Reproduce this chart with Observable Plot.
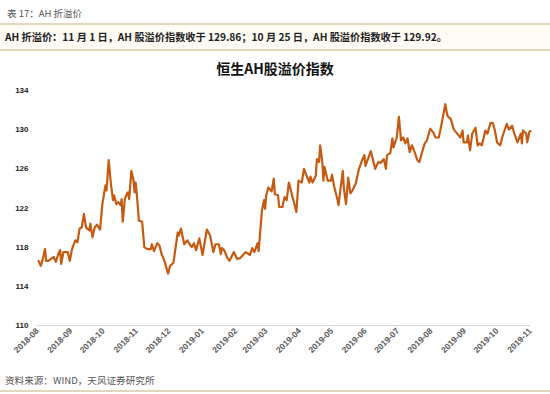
<!DOCTYPE html>
<html>
<head>
<meta charset="utf-8">
<script src="https://cdn.jsdelivr.net/npm/d3@7"></script>
<script src="https://cdn.jsdelivr.net/npm/@observablehq/plot@0.6"></script>
<style>
  body { margin:0; width:550px; height:394px; background:#fff; position:relative; overflow:hidden;
         font-family:"Noto Sans CJK SC","Noto Sans",sans-serif; }
  .abs { position:absolute; }
  #t1 { top:5px; left:7px; font-size:9.5px; color:#555; line-height:16px; }
  #band { top:23px; left:0; width:550px; height:24px; background:#fdfbf4;
          border-top:2px solid #e2d7b9; border-bottom:2px solid #e2d7b9; }
  #band span { position:absolute; left:5px; top:4px; font-size:10.2px; font-weight:bold; color:#222; line-height:16px; white-space:nowrap; }
  #title { top:57px; left:0; width:550px; text-align:center; font-size:14px; font-weight:bold; color:#111; line-height:22px; }
  #chart { top:78px; left:0; }
  #cap { top:372px; left:5px; font-size:9.6px; color:#555; line-height:16px; }
  #bot { top:390px; left:0; width:550px; height:2px; background:#e2d7b9; }
</style>
</head>
<body>
<div id="t1" class="abs">表 17：AH 折溢价</div>
<div id="band" class="abs"><span>AH 折溢价：11 月 1 日，AH 股溢价指数收于 129.86；10 月 25 日，AH 股溢价指数收于 129.92。</span></div>
<div id="title" class="abs">恒生AH股溢价指数</div>
<div id="chart" class="abs"></div>
<div id="cap" class="abs">资料来源：WIND，天风证券研究所</div>
<div id="bot" class="abs"></div>
<script>
const dates = [
"2018-08-02","2018-08-04","2018-08-05","2018-08-08","2018-08-09","2018-08-11","2018-08-16","2018-08-18","2018-08-20","2018-08-22","2018-08-23","2018-08-25","2018-08-29","2018-08-31",
"2018-09-02","2018-09-05","2018-09-07","2018-09-09","2018-09-11","2018-09-13","2018-09-15","2018-09-18","2018-09-19","2018-09-21","2018-09-23","2018-09-25","2018-09-28","2018-09-30",
"2018-10-03","2018-10-04","2018-10-06","2018-10-08","2018-10-10","2018-10-11","2018-10-13","2018-10-15","2018-10-17","2018-10-18","2018-10-19","2018-10-21","2018-10-23","2018-10-24","2018-10-25","2018-10-27","2018-10-29","2018-10-30","2018-10-31",
"2018-11-01","2018-11-03","2018-11-06","2018-11-08","2018-11-11","2018-11-14","2018-11-15","2018-11-17","2018-11-20","2018-11-22","2018-11-24","2018-11-27","2018-11-30",
"2018-12-02","2018-12-05","2018-12-09","2018-12-10","2018-12-12","2018-12-15","2018-12-18","2018-12-20","2018-12-22","2018-12-24","2018-12-26","2018-12-29",
"2019-01-01","2019-01-05","2019-01-08","2019-01-11","2019-01-13","2019-01-16","2019-01-18","2019-01-19","2019-01-21","2019-01-24","2019-01-26","2019-01-30",
"2019-02-02","2019-02-05","2019-02-10","2019-02-14","2019-02-16","2019-02-18","2019-02-21","2019-02-22","2019-02-25","2019-02-27","2019-02-28",
"2019-03-01","2019-03-03","2019-03-06","2019-03-08","2019-03-09","2019-03-12","2019-03-13","2019-03-16","2019-03-18","2019-03-20","2019-03-22","2019-03-25","2019-03-29","2019-03-31",
"2019-04-03","2019-04-05","2019-04-10","2019-04-11","2019-04-13","2019-04-16","2019-04-17","2019-04-19","2019-04-20","2019-04-22","2019-04-23","2019-04-24","2019-04-27","2019-04-30",
"2019-05-01","2019-05-03","2019-05-06","2019-05-07","2019-05-11","2019-05-12","2019-05-14","2019-05-16","2019-05-18","2019-05-20","2019-05-23","2019-05-26","2019-05-29","2019-05-31",
"2019-06-01","2019-06-04","2019-06-06","2019-06-08","2019-06-10","2019-06-13","2019-06-15","2019-06-18","2019-06-20","2019-06-21","2019-06-24","2019-06-26","2019-06-27","2019-06-30",
"2019-07-02","2019-07-04","2019-07-06","2019-07-08","2019-07-10","2019-07-12","2019-07-14","2019-07-16","2019-07-19","2019-07-21","2019-07-24","2019-07-26","2019-07-28","2019-07-31",
"2019-08-03","2019-08-05","2019-08-08","2019-08-11","2019-08-14","2019-08-16","2019-08-19","2019-08-22","2019-08-25","2019-08-28","2019-08-30","2019-08-31",
"2019-09-03","2019-09-04","2019-09-06","2019-09-08","2019-09-11","2019-09-13","2019-09-15","2019-09-17","2019-09-20","2019-09-22","2019-09-25","2019-09-27","2019-09-29",
"2019-10-01","2019-10-04","2019-10-06","2019-10-10","2019-10-12","2019-10-15","2019-10-17","2019-10-20","2019-10-22","2019-10-23","2019-10-24","2019-10-25","2019-10-28","2019-10-29","2019-10-31","2019-11-01"
];
const values = [
116.6,116.1,116.4,117.8,116.6,116.6,117.0,116.5,117.2,117.7,116.3,117.5,117.5,116.6,
117.8,118.7,118.5,119.9,120.0,121.4,120.0,119.7,120.4,119.0,120.0,120.3,119.8,122.3,
124.3,123.8,126.9,124.5,122.8,123.3,122.4,122.6,122.3,122.9,120.6,122.9,123.5,123.6,122.9,125.8,124.8,123.6,124.6,
123.5,120.7,120.6,118.0,117.8,117.8,118.3,117.6,118.4,118.2,117.3,116.5,115.3,
116.1,116.4,119.5,119.2,119.9,118.3,118.7,118.3,118.0,118.4,117.7,118.9,
117.2,119.8,119.2,117.5,118.3,118.3,117.3,117.9,117.7,116.9,116.6,117.5,
116.8,116.9,117.5,117.2,117.9,117.5,118.4,117.6,121.7,122.8,121.9,
123.3,124.1,123.7,125.0,123.4,123.3,122.1,122.1,123.1,122.8,124.6,123.3,121.6,124.8,
124.6,126.0,124.6,125.2,124.6,125.3,127.0,126.7,128.4,126.7,124.8,126.2,124.8,124.8,
125.4,124.2,122.9,122.3,125.8,124.0,122.4,125.1,123.5,123.8,124.5,126.0,126.9,127.4,
126.3,127.2,127.8,126.9,126.0,126.7,126.6,127.0,126.0,127.4,127.6,129.1,128.2,129.2,
131.3,128.9,129.2,128.6,129.1,127.7,128.4,127.9,126.9,126.7,127.9,128.6,128.9,130.1,
129.7,129.2,129.2,130.8,132.6,131.4,131.1,130.0,129.6,129.2,129.9,128.7,
128.7,129.4,127.9,129.6,130.2,128.4,128.6,128.4,129.9,129.6,130.7,130.7,129.9,
128.7,128.4,129.3,130.6,130.0,130.4,129.6,128.7,129.3,129.6,128.6,129.92,129.6,128.7,129.8,129.86
];
const xTickLabels = ["2018-08","2018-09","2018-10","2018-11","2018-12","2019-01","2019-02","2019-03","2019-04","2019-05","2019-06","2019-07","2019-08","2019-09","2019-10","2019-11"];
const yTicks = [110,114,118,122,126,130,134];

const parse = d3.utcParse("%Y-%m-%d");
const parseM = d3.utcParse("%Y-%m");
const data = dates.map((d, i) => ({date: parse(d), value: values[i]}));
const xTicks = xTickLabels.map(parseM);

const chart = Plot.plot({
  width: 550,
  height: 290,
  marginLeft: 37,
  marginRight: 20,
  marginTop: 12,
  marginBottom: 43,
  style: {fontFamily: "'Liberation Sans', Arial, sans-serif", background: "transparent"},
  x: {type: "utc", domain: [xTicks[0], xTicks[xTicks.length - 1]]},
  y: {domain: [110, 134]},
  marks: [
    Plot.ruleY([110], {stroke: "#d9d9d9", strokeWidth: 1.2}),
    Plot.lineY(data, {x: "date", y: "value", stroke: "#c55a11", strokeWidth: 2.2, strokeLinejoin: "round"}),
    Plot.axisY({ticks: yTicks, tickSize: 0, tickPadding: 9, label: null, fontSize: 8, fontWeight: "bold", fill: "#222"}),
    Plot.axisX({ticks: xTicks, tickFormat: d3.utcFormat("%Y-%m"), tickRotate: -45, tickSize: 0, tickPadding: 4,
                label: null, fontSize: 8.5, fontWeight: "bold", fill: "#595959"})
  ]
});
document.getElementById("chart").appendChild(chart);
</script>
</body>
</html>
